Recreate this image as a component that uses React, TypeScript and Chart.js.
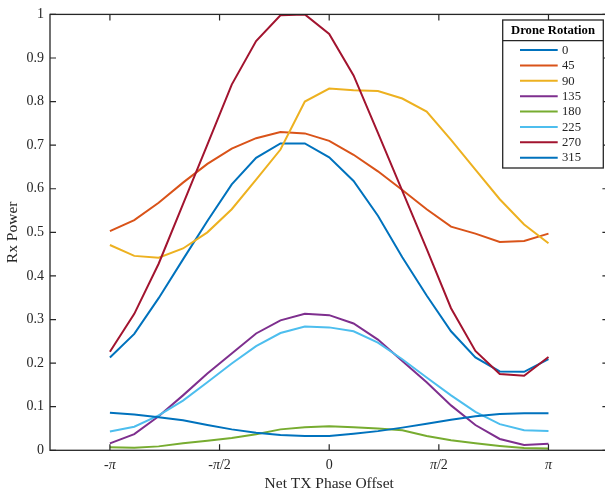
import React, { useEffect, useRef } from "react";
import { Chart, registerables } from "chart.js";

Chart.register(...registerables);

// Phase offset in degrees (shown as radians on the axis)
const PHASE_DEG = [-180, -160, -140, -120, -100, -80, -60, -40, -20, 0, 20, 40, 60, 80, 100, 120, 140, 160, 180];

const ROTATIONS = ["0", "45", "90", "135", "180", "225", "270", "315"];

const R0 = [0.213, 0.267, 0.349, 0.438, 0.526, 0.610, 0.671, 0.704, 0.704, 0.672, 0.618, 0.538, 0.443, 0.355, 0.273, 0.213, 0.181, 0.180, 0.209];
const R45 = [0.503, 0.528, 0.568, 0.614, 0.657, 0.692, 0.716, 0.730, 0.727, 0.710, 0.678, 0.640, 0.597, 0.553, 0.513, 0.497, 0.478, 0.480, 0.497];
const R90 = [0.471, 0.446, 0.442, 0.463, 0.500, 0.553, 0.621, 0.690, 0.800, 0.830, 0.826, 0.824, 0.807, 0.777, 0.712, 0.644, 0.576, 0.518, 0.475];
const R135 = [0.016, 0.037, 0.078, 0.126, 0.176, 0.222, 0.268, 0.298, 0.313, 0.310, 0.291, 0.254, 0.205, 0.156, 0.103, 0.058, 0.026, 0.012, 0.015];
const R180 = [0.007, 0.006, 0.009, 0.016, 0.022, 0.028, 0.037, 0.048, 0.053, 0.055, 0.053, 0.050, 0.046, 0.033, 0.023, 0.016, 0.010, 0.005, 0.004];
const R225 = [0.043, 0.054, 0.080, 0.114, 0.156, 0.199, 0.239, 0.269, 0.284, 0.282, 0.273, 0.247, 0.209, 0.167, 0.126, 0.088, 0.060, 0.046, 0.044];
const R270 = [0.226, 0.313, 0.428, 0.565, 0.701, 0.839, 0.939, 0.998, 1.0, 0.955, 0.860, 0.728, 0.595, 0.462, 0.326, 0.228, 0.175, 0.171, 0.214];
const R315 = [0.086, 0.082, 0.076, 0.069, 0.058, 0.048, 0.040, 0.035, 0.033, 0.033, 0.038, 0.044, 0.052, 0.061, 0.070, 0.078, 0.083, 0.085, 0.085];

const SERIES = [R0, R45, R90, R135, R180, R225, R270, R315];
const COLORS = ["#0072BD", "#D95319", "#EDB120", "#7E2F8E", "#77AC30", "#4DBEEE", "#A2142F", "#0072BD"];

const X_TICKS = [-Math.PI, -Math.PI / 2, 0, Math.PI / 2, Math.PI];
const X_TICK_LABELS = ["-π", "-π/2", "0", "π/2", "π"];
const Y_TICKS = [0, 0.1, 0.2, 0.3, 0.4, 0.5, 0.6, 0.7, 0.8, 0.9, 1];

const AXIS_COLOR = "#262626";
const FONT = "'Liberation Serif', 'Times New Roman', serif";

const CANVAS_W = 620;
const CANVAS_H = 496;

// draws a tick label with π in italics, centred at x
function drawPiLabel(ctx: any, text: string, x: number, y: number) {
  const parts: { s: string; it: boolean }[] = [];
  for (const ch of text) {
    const it = ch === "π";
    const last = parts[parts.length - 1];
    if (last && last.it === it) last.s += ch;
    else parts.push({ s: ch, it });
  }
  const fontN = `14px ${FONT}`;
  const fontI = `italic 14px ${FONT}`;
  let total = 0;
  const widths = parts.map((p) => {
    ctx.font = p.it ? fontI : fontN;
    const w = ctx.measureText(p.s).width;
    total += w;
    return w;
  });
  let cx = x - total / 2;
  ctx.textAlign = "left";
  ctx.textBaseline = "middle";
  parts.forEach((p, i) => {
    ctx.font = p.it ? fontI : fontN;
    ctx.fillText(p.s, cx, y);
    cx += widths[i];
  });
}

const boxPlugin = {
  id: "matlabBox",
  afterDatasetsDraw(chart: any) {
    const { ctx, chartArea, scales } = chart;
    const { left, right, top, bottom } = chartArea;
    const tl = 6;
    ctx.save();
    ctx.strokeStyle = AXIS_COLOR;
    ctx.lineWidth = 1.2;
    ctx.beginPath();
    for (const v of Y_TICKS) {
      const y = scales.y.getPixelForValue(v);
      ctx.moveTo(left, y);
      ctx.lineTo(left + tl, y);
      ctx.moveTo(right, y);
      ctx.lineTo(right - tl, y);
    }
    for (const v of X_TICKS) {
      const x = scales.x.getPixelForValue(v);
      ctx.moveTo(x, bottom);
      ctx.lineTo(x, bottom - tl);
      ctx.moveTo(x, top);
      ctx.lineTo(x, top + tl);
    }
    ctx.stroke();
    ctx.lineWidth = 1.3;
    ctx.strokeRect(left, top, right - left, bottom - top);
    // x tick labels
    ctx.fillStyle = AXIS_COLOR;
    X_TICKS.forEach((v, i) => {
      const x = scales.x.getPixelForValue(v);
      drawPiLabel(ctx, X_TICK_LABELS[i], x, bottom + 15);
    });
    ctx.restore();
  },
  afterDraw(chart: any) {
    const { ctx } = chart;
    const bx = 502.7, by = 20, bw = 100.6, bh = 148;
    ctx.save();
    ctx.fillStyle = "#ffffff";
    ctx.fillRect(bx, by, bw, bh);
    ctx.strokeStyle = AXIS_COLOR;
    ctx.lineWidth = 1.3;
    ctx.strokeRect(bx, by, bw, bh);
    ctx.beginPath();
    ctx.moveTo(bx, 40.7);
    ctx.lineTo(bx + bw, 40.7);
    ctx.stroke();
    ctx.fillStyle = "#000000";
    ctx.font = `bold 12.7px ${FONT}`;
    ctx.textAlign = "center";
    ctx.textBaseline = "middle";
    ctx.fillText("Drone Rotation", bx + bw / 2, 30.8);
    ctx.font = `12.7px ${FONT}`;
    ctx.textAlign = "left";
    ROTATIONS.forEach((name, i) => {
      const y = 50 + i * 15.38;
      ctx.strokeStyle = COLORS[i];
      ctx.lineWidth = 2;
      ctx.beginPath();
      ctx.moveTo(520, y);
      ctx.lineTo(557.7, y);
      ctx.stroke();
      ctx.fillStyle = AXIS_COLOR;
      ctx.fillText(name, 562, y + 0.5);
    });
    ctx.restore();
  },
};

export default function App() {
  const canvasRef = useRef<HTMLCanvasElement | null>(null);

  useEffect(() => {
    const canvas = canvasRef.current;
    if (!canvas) return;
    const datasets = SERIES.map((vals, i) => ({
      label: ROTATIONS[i],
      data: PHASE_DEG.map((d, k) => ({ x: (d * Math.PI) / 180, y: vals[k] })),
      borderColor: COLORS[i],
      backgroundColor: COLORS[i],
      borderWidth: 2,
      pointRadius: 0,
      tension: 0,
      fill: false,
      order: SERIES.length - i,
    }));

    const chart = new Chart(canvas, {
      type: "line",
      data: { datasets },
      options: {
        animation: false,
        responsive: false,
        devicePixelRatio: 1,
        layout: { padding: { top: 10, right: CANVAS_W - 608.4, left: 0, bottom: 0 } },
        plugins: { legend: { display: false }, tooltip: { enabled: false } },
        scales: {
          x: {
            type: "linear",
            min: -4,
            max: 4,
            afterFit: (s: any) => { s.height = CANVAS_H - 450.3; },
            afterBuildTicks: (s: any) => { s.ticks = X_TICKS.map((v) => ({ value: v })); },
            grid: { display: false, drawTicks: false },
            border: { display: false },
            ticks: { display: false },
            title: {
              display: true,
              text: "Net TX Phase Offset",
              color: AXIS_COLOR,
              font: { family: FONT, size: 15.5 },
              padding: { top: 0, bottom: 3.2 },
            },
          },
          y: {
            min: 0,
            max: 1,
            afterFit: (s: any) => { s.width = 50; },
            afterBuildTicks: (s: any) => { s.ticks = Y_TICKS.map((v) => ({ value: v })); },
            grid: { display: false, drawTicks: false },
            border: { display: false },
            ticks: {
              padding: 6,
              color: AXIS_COLOR,
              font: { family: FONT, size: 14 },
              callback: (v: any) => String(Math.round(Number(v) * 10) / 10),
            },
            title: {
              display: true,
              text: "Rx Power",
              color: AXIS_COLOR,
              font: { family: FONT, size: 15.5 },
              padding: { top: 4, bottom: 0 },
            },
          },
        },
      },
      plugins: [boxPlugin],
    } as any);
    return () => chart.destroy();
  }, []);

  return (
    <div style={{ position: "fixed", left: 0, top: 0, width: 605, height: 496, overflow: "hidden", background: "#ffffff" }}>
      <canvas ref={canvasRef} width={CANVAS_W} height={CANVAS_H} style={{ display: "block" }} />
    </div>
  );
}
